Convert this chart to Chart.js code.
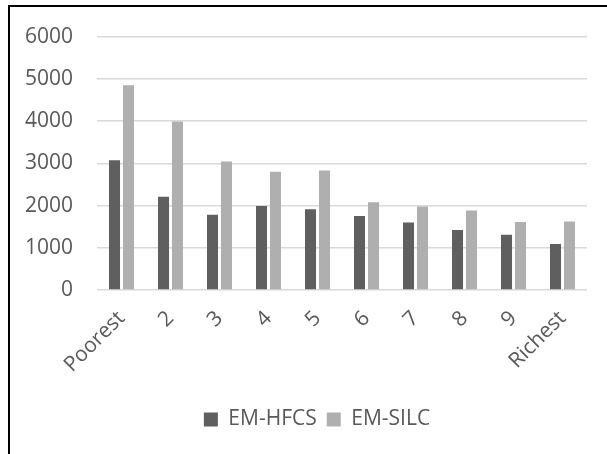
<!DOCTYPE html>
<html>
<head>
<meta charset="utf-8">
<script src="https://cdn.jsdelivr.net/npm/chart.js@4.4.1/dist/chart.umd.min.js"></script>
<style>
    body { margin: 0; background: #fff; overflow: hidden; }
    #frame { position: absolute; left: 8px; top: 5px; width: 700px; height: 600px; border: 2px solid #000; }
    #chart { position: absolute; left: 0; top: 0; }
</style>
</head>
<body>
<div id="frame"></div>
<canvas id="chart" width="607" height="454"></canvas>
<script>
// Categories (income deciles) and series values
const deciles = ['Poorest', '2', '3', '4', '5', '6', '7', '8', '9', 'Richest'];
const emHfcs = [3070, 2210, 1780, 1990, 1910, 1750, 1600, 1420, 1310, 1090];
const emSilc = [4850, 3990, 3040, 2800, 2830, 2080, 1980, 1880, 1610, 1620];
const yTicks = [0, 1000, 2000, 3000, 4000, 5000, 6000];

const textColor = '#595959';
const font = { family: 'Open Sans', size: 21 };

// Centre the legend on the framed area rather than the whole canvas
const legendShift = {
    id: 'legendShift',
    afterLayout(chart) {
        chart.legend.left = 47;
    }
};

new Chart(document.getElementById('chart'), {
    type: 'bar',
    data: {
        labels: deciles,
        datasets: [
            {
                label: 'EM-HFCS',
                data: emHfcs,
                backgroundColor: '#5f5f5f',
                categoryPercentage: 0.57,
                barPercentage: 0.79
            },
            {
                label: 'EM-SILC',
                data: emSilc,
                backgroundColor: '#afafaf',
                categoryPercentage: 0.57,
                barPercentage: 0.79
            }
        ]
    },
    plugins: [legendShift],
    options: {
        responsive: false,
        animation: false,
        layout: {
            padding: { top: 35, right: 20, bottom: 14, left: 0 }
        },
        plugins: {
            legend: {
                position: 'bottom',
                labels: {
                    color: textColor,
                    font: font,
                    boxWidth: 14,
                    boxHeight: 14,
                    padding: 10
                }
            },
            tooltip: { enabled: false }
        },
        scales: {
            x: {
                grid: { display: false },
                border: { display: false },
                ticks: {
                    color: textColor,
                    font: font,
                    autoSkip: false,
                    minRotation: 45,
                    maxRotation: 45,
                    padding: 8
                },
                afterFit: function(scale) { scale.height = 109; }
            },
            y: {
                min: 0,
                max: 6000,
                border: { display: false },
                grid: { color: '#d9d9d9', lineWidth: 1.5, drawTicks: false },
                ticks: {
                    color: textColor,
                    font: font,
                    padding: 24,
                    callback: value => String(value)
                },
                afterBuildTicks: function(scale) {
                    scale.ticks = yTicks.map(v => ({ value: v }));
                },
                afterFit: function(scale) { scale.width = 97; }
            }
        }
    }
});
</script>
</body>
</html>
